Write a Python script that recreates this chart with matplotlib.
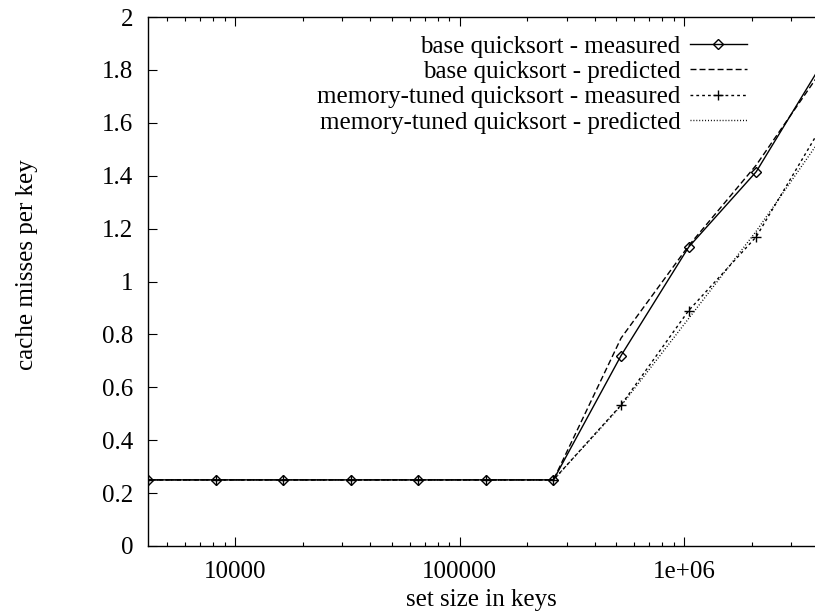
import matplotlib
matplotlib.use("Agg")
import matplotlib.pyplot as plt
from matplotlib.ticker import FixedLocator, FuncFormatter, LogLocator, NullFormatter

plt.rcParams['font.family'] = ['Liberation Serif', 'DejaVu Serif']

# ---- data ----
set_sizes = [4096, 8192, 16384, 32768, 65536, 131072, 262144,
             524288, 1048576, 2097152, 4194304]
base_measured = [0.25, 0.25, 0.25, 0.25, 0.25, 0.25, 0.25,
                 0.72, 1.13, 1.415, 1.835]
base_predicted = [0.25, 0.25, 0.25, 0.25, 0.25, 0.25, 0.25,
                  0.786, 1.135, 1.44, 1.81]
tuned_measured = [0.25, 0.25, 0.25, 0.25, 0.25, 0.25, 0.25,
                  0.533, 0.89, 1.169, 1.60]
tuned_predicted = [0.25, 0.25, 0.25, 0.25, 0.25, 0.25, 0.25,
                   0.53, 0.86, 1.19, 1.556]
labels = ["base quicksort - measured",
          "base quicksort - predicted",
          "memory-tuned quicksort - measured",
          "memory-tuned quicksort - predicted"]
y_ticks = [0, 0.2, 0.4, 0.6, 0.8, 1.0, 1.2, 1.4, 1.6, 1.8, 2.0]
x_major = [10000, 100000, 1000000]
x_major_labels = ["10000", "100000", "1e+06"]

W, H = 815, 615
fig = plt.figure(figsize=(W / 100, H / 100), dpi=100)
L, R, T, B = 148, 823.8, 17, 546
ax = fig.add_axes([L / W, 1 - B / H, (R - L) / W, (B - T) / H])

FS = 18
lw = 1.0
ax.plot(set_sizes, base_measured, color='black', lw=lw, ls='-',
        marker='D', markersize=5, markerfacecolor='none', markeredgewidth=1.0,
        label=labels[0])
ax.plot(set_sizes, base_predicted, color='black', lw=lw, ls=(0, (4.3, 2.2)),
        label=labels[1])
ax.plot(set_sizes, tuned_measured, color='black', lw=lw, ls=(0, (2.0, 2.2)),
        marker='+', markersize=7, markeredgewidth=1.0, label=labels[2])
ax.plot(set_sizes, tuned_predicted, color='black', lw=lw, ls=(0, (0.7, 1.4)),
        label=labels[3])

ax.set_xscale('log')
ax.set_xlim(4096, 4194304)
ax.set_ylim(0, 2)
ax.xaxis.set_major_locator(FixedLocator(x_major))
ax.xaxis.set_major_formatter(FuncFormatter(
    lambda v, p: x_major_labels[x_major.index(v)] if v in x_major else ""))
ax.xaxis.set_minor_locator(LogLocator(base=10, subs=[2, 3, 4, 5, 6, 7, 8, 9]))
ax.xaxis.set_minor_formatter(NullFormatter())
ax.yaxis.set_major_locator(FixedLocator(y_ticks))
ax.yaxis.set_major_formatter(FuncFormatter(lambda v, p: "%g" % v))

ax.tick_params(which='both', direction='in', top=True, right=True,
               labelsize=FS, width=0.8, color='black')
ax.tick_params(which='major', length=6.5)
ax.tick_params(which='minor', length=3.2)
ax.tick_params(axis='y', pad=10.5)
ax.tick_params(axis='x', pad=11)
for s in ax.spines.values():
    s.set_linewidth(1.0)

fig.text(481.5 / W, 1 - 600 / H, "set size in keys", ha='center', va='center',
         fontsize=FS)
fig.text(27 / W, 1 - 265 / H, "cache misses per key", ha='center', va='center',
         rotation=90, fontsize=FS)

leg = ax.legend(loc='upper right', bbox_to_anchor=(747 / W, 1 - 35 / H),
                bbox_transform=fig.transFigure, frameon=False, fontsize=FS,
                markerfirst=False, handlelength=2.3, handletextpad=0.35,
                labelspacing=0.12, borderpad=0, borderaxespad=0)

fig.savefig("out.png", dpi=100)
